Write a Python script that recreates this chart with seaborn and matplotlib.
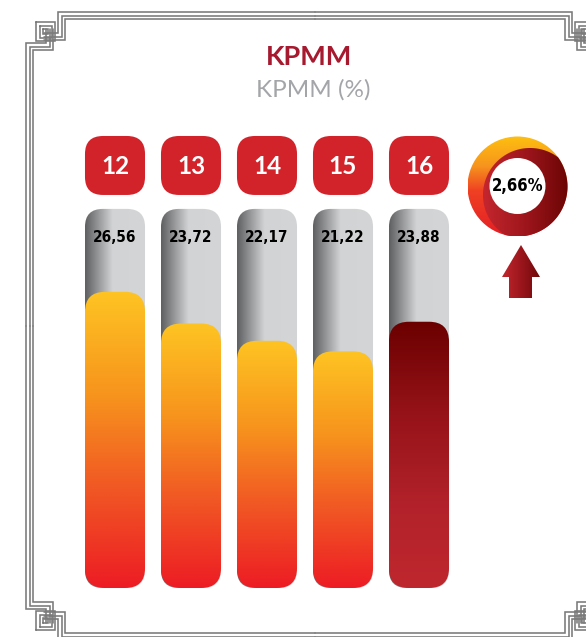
import numpy as np
import pandas as pd
import matplotlib
matplotlib.use("Agg")
import matplotlib.pyplot as plt
from matplotlib.patches import FancyBboxPatch, Circle, Polygon
from matplotlib.colors import LinearSegmentedColormap
import seaborn as sns

# Datos del grafico
years = ["12", "13", "14", "15", "16"]
values = [26.56, 23.72, 22.17, 21.22, 23.88]
value_labels = ["26,56", "23,72", "22,17", "21,22", "23,88"]
growth_label = "2,66%"
title = "KPMM"
subtitle = "KPMM (%)"

# Layout (pixeles)
W, H = 586, 637
PX = 11.15      # px por unidad del eje y
ZERO = 588      # linea base en px
STEP = 76       # px entre categorias
TUBE_TOP = 34.0
BADGE_LO, BADGE_HI = 35.25, 40.54
YMAX = 41.5
NARROW = dict(family="DejaVu Sans", fontstretch="condensed", fontweight="bold")

sns.set_style("white")
fig = plt.figure(figsize=(W / 100, H / 100), dpi=100)

bg = fig.add_axes([0, 0, 1, 1])
bg.set_xlim(0, W)
bg.set_ylim(H, 0)
bg.axis("off")

ax = fig.add_axes([77 / W, (H - ZERO) / H, 5 * STEP / W, YMAX * PX / H])
ax.set_facecolor("none")
ax.set_zorder(2)

df = pd.DataFrame({"year": years, "value": values})
sns.barplot(data=df, x="year", y="value", ax=ax, width=0.79, color="#F58220", errorbar=None)
ax.set_xlim(-0.5, 4.5)
ax.set_ylim(0, YMAX)
ax.axis("off")


def rbox(a, x0, y0, w, h, r_px, **kw):
    p = FancyBboxPatch((x0, y0), w, h,
                       boxstyle=f"round,pad=0,rounding_size={r_px / STEP}",
                       mutation_aspect=STEP / PX, **kw)
    a.add_patch(p)
    return p


def gradfill(a, patch, extent, cmap, vertical=True, z=2):
    g = np.linspace(0, 1, 256)
    arr = g.reshape(-1, 1) if vertical else g.reshape(1, -1)
    im = a.imshow(arr, cmap=cmap, extent=extent, aspect="auto",
                  interpolation="bicubic", zorder=z)
    im.set_clip_path(patch)


tube_cmap = LinearSegmentedColormap.from_list(
    "tube", [(0, "#5e5f61"), (0.45, "#d1d3d4"), (1, "#d3d5d6")])
orange_cmap = LinearSegmentedColormap.from_list(
    "orange", [(0, "#FEC423"), (0.35, "#F7941D"), (0.65, "#F15A24"), (1, "#ED1C24")])
dark_cmap = LinearSegmentedColormap.from_list(
    "dark", [(0, "#6B0000"), (0.35, "#961319"), (0.7, "#B3222A"), (1, "#BF272E")])

for i, p in enumerate(ax.patches[:len(values)]):
    x, w, h = p.get_x(), p.get_width(), p.get_height()
    p.set_visible(False)
    # tubo gris
    tube = rbox(ax, x, 0, w, TUBE_TOP, 18, fc="none", ec="none")
    gradfill(ax, tube, (x, x + w, 0, TUBE_TOP), tube_cmap, vertical=False, z=1)
    # barra con degradado
    bar = rbox(ax, x, 0, w, h, 20, fc="none", ec="none")
    cm = dark_cmap if i == len(values) - 1 else orange_cmap
    gradfill(ax, bar, (x, x + w, 0, h), cm, vertical=True, z=3)
    # etiqueta del valor
    ax.text(x + w / 2, (ZERO - 241.7) / PX, value_labels[i], ha="center", va="baseline",
            fontsize=11, color="black", zorder=5, **NARROW)
    # cuadro del anio
    rbox(ax, x, BADGE_LO, w, BADGE_HI - BADGE_LO, 18, fc="#D2232A", ec="none", zorder=4)
    ax.text(x + w / 2, (ZERO - 174) / PX, years[i], ha="center", va="baseline",
            fontsize=17.5, fontweight="bold", family="Lato", color="white", zorder=5)

ax.set_xlim(-0.5, 4.5)
ax.set_ylim(0, YMAX)

# Marco decorativo
frame = []
for k in range(3):
    d = 3.5 * k
    frame.append([(315, 12 + d), (58 + d, 12 + d), (58 + d, 33 + d), (44, 33 + d)])
    frame.append([(26 + d, 326), (26 + d, 43 + d), (46 + d, 43 + d), (46 + d, 29)])
    s0, s1, t0, t1 = 36 + d, 55 - d, 22 + d, 41 - d
    frame.append([(s0, t0), (s1, t0), (s1, t1), (s0, t1), (s0, t0)])
for path in frame:
    xs, ys = zip(*path)
    for sx in (False, True):
        for sy in (False, True):
            X = [630 - v if sx else v for v in xs]
            Y = [652 - v if sy else v for v in ys]
            bg.plot(X, Y, color="#7a7a7a", lw=1.15, solid_joinstyle="miter")

# Titulos
bg.text(309, 65, title, ha="center", va="baseline", fontsize=19.5, fontweight="bold",
        family="Lato", color="#A6192E")
bg.text(313, 97, subtitle, ha="center", va="baseline", fontsize=17.5,
        family="Lato", color="#A3A5A8")

# Dona de crecimiento
cx, cy, R = 517.5, 186.5, 50
outer = Circle((cx, cy), R, fc="none", ec="none")
bg.add_patch(outer)
ring_cmap = LinearSegmentedColormap.from_list(
    "ring", [(0, "#FDC010"), (0.3, "#F7941D"), (0.55, "#EF4023"), (1, "#E41E26")])
gradfill(bg, outer, (cx - R, cx + R, cy + R, cy - R), ring_cmap, vertical=True, z=2)

dx, dy, dr = 530, 195, 47
t = np.linspace(0, 2 * np.pi, 400)
px_, py_ = dx + dr * np.cos(t), dy + dr * np.sin(t)
rr = np.hypot(px_ - cx, py_ - cy)
scale = np.minimum(1, R / rr)
px_ = cx + (px_ - cx) * scale
py_ = cy + (py_ - cy) * scale
crescent = Polygon(np.column_stack([px_, py_]), closed=True, fc="none", ec="none")
bg.add_patch(crescent)
cres_cmap = LinearSegmentedColormap.from_list("cres", ["#C4262E", "#9E161C", "#6B0505"])
gradfill(bg, crescent, (dx - dr, cx + R, cy + R, dy - dr), cres_cmap, vertical=False, z=3)

bg.add_patch(Circle((cx, 186), 28, fc="white", ec="none", zorder=4))
bg.text(cx, 186, growth_label, ha="center", va="center", fontsize=12,
        color="black", zorder=5, **NARROW)

# Flecha hacia arriba
arrow = Polygon([(521, 245), (540, 277), (532, 277), (532, 298), (509, 298), (509, 277),
                 (502, 277)], closed=True, fc="none", ec="none")
bg.add_patch(arrow)
arrow_cmap = LinearSegmentedColormap.from_list("arrow", ["#C1272D", "#9B161C", "#6E0808"])
gradfill(bg, arrow, (502, 540, 298, 245), arrow_cmap, vertical=False, z=2)

bg.set_xlim(0, W)
bg.set_ylim(H, 0)

fig.savefig("out.png", dpi=100, facecolor="white")
